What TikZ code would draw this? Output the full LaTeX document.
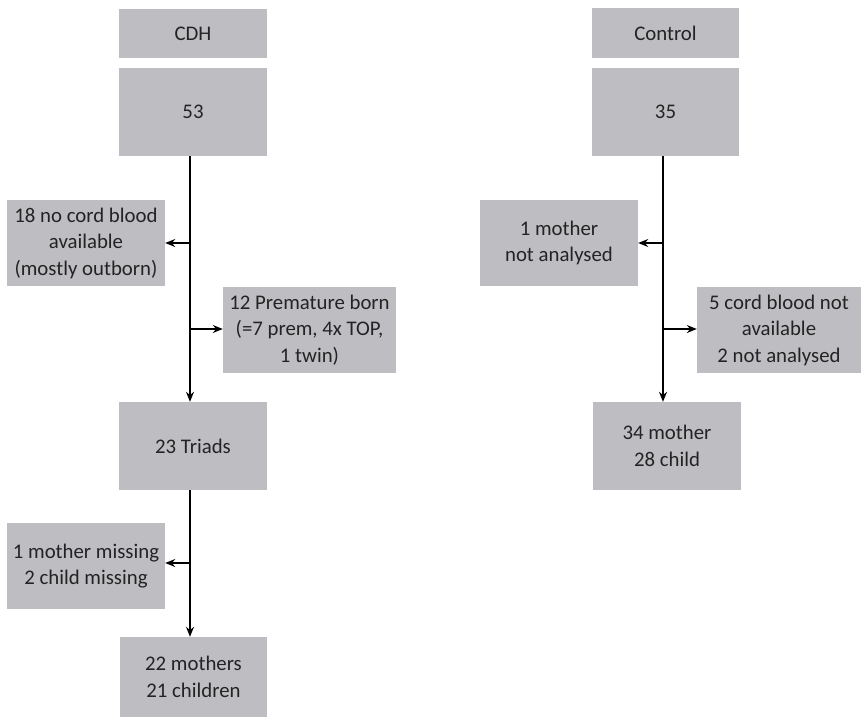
\documentclass[tikz,border=0pt]{standalone}
\usepackage{fontspec}
\setmainfont{Carlito}
\usetikzlibrary{arrows.meta}
\definecolor{boxgray}{RGB}{190,190,194}
\definecolor{txt}{RGB}{35,35,35}
\begin{document}
\begin{tikzpicture}[x=1pt,y=-1pt,
  bx/.style={fill=boxgray,draw=none,inner sep=0pt,align=center,text=txt,
    font=\fontsize{20.8}{26.5}\selectfont},
  ln/.style={line width=1.3pt,black},
  arr/.style={ln,-{Stealth[length=10pt,width=8pt]}}]
\useasboundingbox (0,0) rectangle (861,718);
% left column
\node[bx,minimum width=148pt,minimum height=49pt] (cdh) at (193,33.5) {CDH};
\node[bx,minimum width=148pt,minimum height=88pt] (n53) at (193,112) {53};
\node[bx,minimum width=158pt,minimum height=86pt] (nocord) at (86,243) {18 no cord blood\\available\\(mostly outborn)};
\node[bx,minimum width=173pt,minimum height=86pt] (prem) at (309.5,330) {12 Premature born\\(=7 prem, 4x TOP,\\1 twin)};
\node[bx,minimum width=148pt,minimum height=88pt] (triads) at (193,446) {23 Triads};
\node[bx,minimum width=158pt,minimum height=86pt] (missing) at (86,566) {1 mother missing\\2 child missing};
\node[bx,minimum width=147pt,minimum height=80pt] (final) at (193.5,677) {22 mothers\\21 children};
\coordinate (tl) at (190,0);
\coordinate (bl1) at (190,243);
\coordinate (bl2) at (190,329);
\coordinate (bl3) at (190,563);
\draw[ln] (n53.south -| tl) -- (bl1);
\draw[arr] (bl1) -- (bl1 -| nocord.east);
\draw[arr] (bl2) -- (bl2 -| prem.west);
\draw[arr] (bl1) -- (triads.north -| tl);
\draw[ln] (triads.south -| tl) -- (bl3);
\draw[arr] (bl3) -- (bl3 -| missing.east);
\draw[arr] (bl3) -- (final.north -| tl);
% right column
\node[bx,minimum width=147pt,minimum height=50pt] (ctrl) at (665.5,33) {Control};
\node[bx,minimum width=147pt,minimum height=88pt] (n35) at (665.5,112) {35};
\node[bx,minimum width=158pt,minimum height=86pt] (notan) at (559,243) {1 mother\\not analysed};
\node[bx,minimum width=164pt,minimum height=86pt] (cordna) at (779,330) {5 cord blood not\\available\\2 not analysed};
\node[bx,minimum width=148pt,minimum height=88pt] (mc) at (667,446) {34 mother\\28 child};
\coordinate (tr) at (663,0);
\coordinate (br1) at (663,243);
\coordinate (br2) at (663,329);
\draw[ln] (n35.south -| tr) -- (br1);
\draw[arr] (br1) -- (br1 -| notan.east);
\draw[arr] (br2) -- (br2 -| cordna.west);
\draw[arr] (br1) -- (mc.north -| tr);
\end{tikzpicture}
\end{document}
